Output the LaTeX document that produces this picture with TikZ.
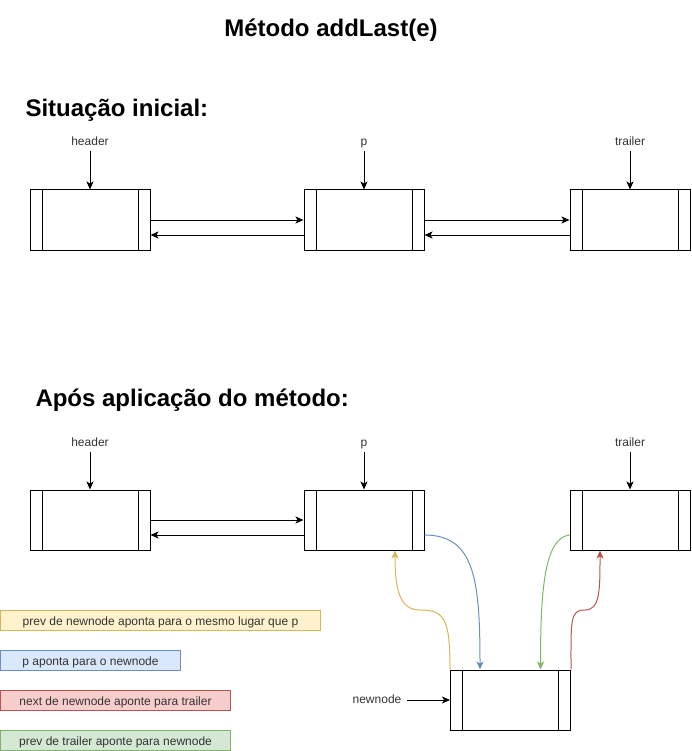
\documentclass[tikz,border=0pt]{standalone}
\usepackage{fontspec}
\setmainfont{Liberation Sans}
\usepackage{xcolor}
\usetikzlibrary{arrows.meta}

\definecolor{ylwline}{HTML}{D6B656}
\definecolor{ylwfill}{HTML}{FFF2CC}
\definecolor{blueline}{HTML}{6C8EBF}
\definecolor{bluefill}{HTML}{DAE8FC}
\definecolor{redline}{HTML}{B85450}
\definecolor{redfill}{HTML}{F8CECC}
\definecolor{grnline}{HTML}{82B366}
\definecolor{grnfill}{HTML}{D5E8D4}

\tikzset{
  listnode/.style={draw, minimum width=120pt, minimum height=60pt, inner sep=0pt,
    path picture={
      \draw ([xshift=12pt]path picture bounding box.north west) -- ([xshift=12pt]path picture bounding box.south west);
      \draw ([xshift=-12pt]path picture bounding box.north east) -- ([xshift=-12pt]path picture bounding box.south east);
    }},
  ptr/.style={inner sep=0pt, text height=9pt, text depth=2pt, text=black!80, font=\fontsize{12}{14}\selectfont},
  heading/.style={inner sep=0pt, font=\bfseries\fontsize{24}{28}\selectfont},
  note/.style={draw, minimum height=20pt, inner sep=0pt, text height=12pt, text depth=2pt, text=black!80, font=\fontsize{12}{14}\selectfont},
}

\begin{document}
\begin{tikzpicture}[x=1pt,y=-1pt,line width=1pt,>={Stealth[length=8pt,width=7pt,inset=2pt]}]
\useasboundingbox (0,0) rectangle (691,751);

% Titles
\node[heading] (title) at (331,30) {Método addLast(e)};
\node[heading,anchor=west] (before) at (25,110) {Situação inicial:};
\node[heading,anchor=west] (after) at (35,400) {Após aplicação do método:};

% List nodes and pointers
\foreach \r/\y in {1/220,2/520} {
  \node[listnode] (h\r) at (90,\y) {};
  \node[listnode] (p\r) at (364,\y) {};
  \node[listnode] (t\r) at (630,\y) {};
  \node[ptr] (lh\r) at (90,\y-77.5) {header};
  \node[ptr] (lp\r) at (364,\y-77.5) {p};
  \node[ptr] (lt\r) at (630,\y-77.5) {trailer};
  \draw[->,shorten <=3pt] (lh\r) -- (h\r);
  \draw[->,shorten <=3pt] (lp\r) -- (p\r);
  \draw[->,shorten <=3pt] (lt\r) -- (t\r);
  \draw[->] (h\r.east) -- (p\r.west);
  \draw[->] ([yshift=-15pt]p\r.west) -- ([yshift=-15pt]h\r.east);
}

% Links p <-> trailer (initial only)
\draw[->] (p1.east) -- (t1.west);
\draw[->] ([yshift=-15pt]t1.west) -- ([yshift=-15pt]p1.east);

% New node
\node[listnode] (nn) at (510.5,700) {};
\node[ptr] (lnn) at (377,700) {newnode};
\draw[->,shorten <=5pt] (lnn) -- (nn);

% New links
\draw[->,ylwline] (nn.north west) .. controls +(0,-50) and +(25,0) .. (420,610)
  .. controls +(-20,0) and +(0,40) .. ([xshift=31pt]p2.south);
\draw[->,blueline] ([yshift=-15pt]p2.east) .. controls +(50,0) and +(0,-90) .. ([xshift=-30.5pt]nn.north);
\draw[->,grnline] ([yshift=-15pt]t2.west) .. controls +(-25,3) and +(0,-80) .. ([xshift=30pt]nn.north);
\draw[->,redline] (nn.north east) .. controls +(0,-50) and +(-15,0) .. (585,610)
  .. controls +(15,0) and +(0,40) .. ([xshift=-30pt]t2.south);

% Legend
\node[note,draw=ylwline,fill=ylwfill,minimum width=320pt] (n1) at (160.5,620) {prev de newnode aponta para o mesmo lugar que p};
\node[note,draw=blueline,fill=bluefill,minimum width=180pt] (n2) at (90.5,660) {p aponta para o newnode};
\node[note,draw=redline,fill=redfill,minimum width=230pt] (n3) at (115.5,700) {next de newnode aponte para trailer};
\node[note,draw=grnline,fill=grnfill,minimum width=230pt] (n4) at (115.5,740) {prev de trailer aponte para newnode};

\end{tikzpicture}
\end{document}
